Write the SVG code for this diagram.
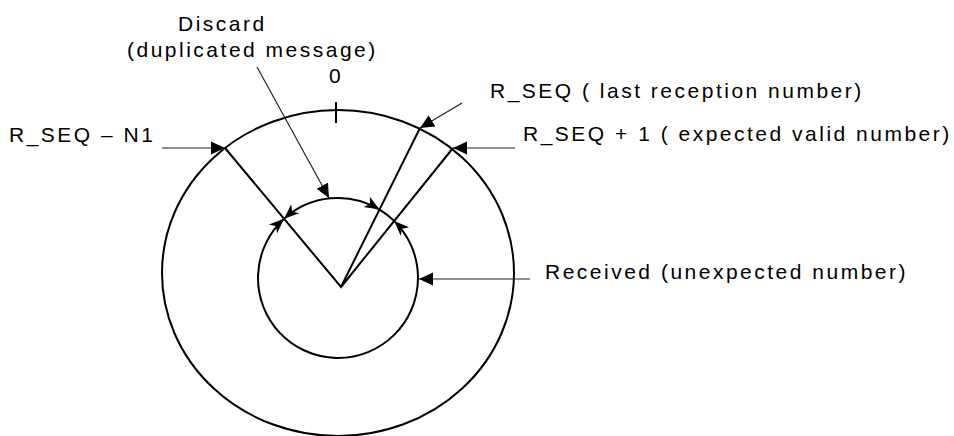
<svg xmlns="http://www.w3.org/2000/svg" width="954" height="436" viewBox="0 0 954 436">
<style>
text{font-family:"Liberation Sans",Arial,sans-serif;font-size:21px;letter-spacing:2.5px;fill:#000}
.ring{fill:none;stroke:#000;stroke-width:2}
.radial{stroke:#000;stroke-width:2;fill:none}
.conn{stroke:#222;stroke-width:1.2;fill:none}
</style>
<defs>
<marker id="big" markerUnits="userSpaceOnUse" markerWidth="16" markerHeight="14" refX="14" refY="7" orient="auto" viewBox="0 0 16 14">
<path d="M0,0.5 L14,7 L0,13.5 Z" fill="#000"/>
</marker>
<marker id="small" markerUnits="userSpaceOnUse" markerWidth="16" markerHeight="14" refX="15" refY="7" orient="auto-start-reverse" viewBox="0 0 16 14">
<path d="M0,1 L15,7 L0,13 L4,7 Z" fill="#000"/>
</marker>
</defs>
<rect width="954" height="436" fill="#fff"/>
<g id="outer-ring">
<ellipse class="ring" cx="338" cy="273" rx="176" ry="163"/>
<line class="radial" x1="336" y1="102" x2="336" y2="123" stroke-width="1.2"/>
</g>
<g id="inner-ring">
<path class="ring" d="M379.5,209.6 A80,80 0 0 1 394.2,221"/>
<path class="ring" marker-start="url(#small)" marker-end="url(#small)" d="M284.1,218.8 A80,80 0 0 1 379.5,209.6"/>
<path class="ring" marker-start="url(#small)" marker-end="url(#small)" d="M394.2,221 A80,80 0 1 1 284.1,218.8"/>
</g>
<g id="radials">
<polyline class="radial" points="225,148 341,287 420,128"/>
<line class="radial" x1="341" y1="287" x2="453" y2="148"/>
</g>
<g id="connectors">
<line class="conn" x1="162" y1="148" x2="225" y2="148" marker-end="url(#big)"/>
<line class="conn" x1="515" y1="148" x2="453" y2="148" marker-end="url(#big)"/>
<line class="conn" x1="462" y1="103" x2="420" y2="128" marker-end="url(#big)"/>
<line class="conn" x1="530" y1="279" x2="419" y2="279" marker-end="url(#big)"/>
<line class="conn" x1="257" y1="67" x2="329" y2="198" marker-end="url(#big)"/>
</g>
<g id="labels">
<text x="178" y="31">Discard</text>
<text x="127" y="57">(duplicated message)</text>
<text x="329" y="83">0</text>
<text x="490" y="97.5">R_SEQ ( last reception number)</text>
<text x="9" y="142">R_SEQ – N1</text>
<text x="523" y="141">R_SEQ + 1 ( expected valid number)</text>
<text x="545" y="279">Received (unexpected number)</text>
</g>
</svg>
